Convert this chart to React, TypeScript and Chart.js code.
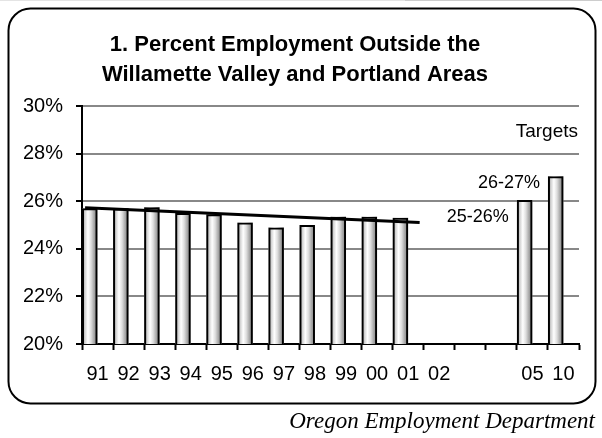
import React, { useEffect, useRef } from "react";
import { Chart, registerables } from "chart.js";

Chart.register(...registerables);

// ---- data ----
const categories = ["91", "92", "93", "94", "95", "96", "97", "98", "99", "00", "01", "02", "", "", "05", "10"];
const employmentShare = [25.7, 25.7, 25.75, 25.5, 25.45, 25.1, 24.9, 25.0, 25.35, 25.35, 25.3, null, null, null, 26.05, 27.05];
const trendX = [0.1, 10.87]; // in category-slot units
const trendY = [25.72, 25.1];
const yTicksMin = 20;
const yTicksMax = 30;
const yTickStep = 2;
const titleLines = ["1. Percent Employment Outside the", "Willamette Valley and Portland Areas"];
const annotationLabels = ["Targets", "26-27%", "25-26%"];
const annotationValues = [28.9, 26.75, 25.35];
const annotationAnchors = [-1, 15, 14]; // -1 = right edge of plot, otherwise category index of bar
const sourceText = "Oregon Employment Department";

const FONT = "'Liberation Sans', Arial, Helvetica, sans-serif";

// bars sit in the left half of each category slot
const barPoints = employmentShare
  .map((v, i) => (v == null ? null : { x: i + 0.25, y: v, idx: i }))
  .filter((p) => p !== null) as { x: number; y: number; idx: number }[];

const decorPlugin = {
  id: "decor",
  beforeDraw(chart: any) {
    const ctx = chart.ctx;
    ctx.save();
    ctx.fillStyle = "#ffffff";
    ctx.fillRect(0, 0, chart.width, chart.height);
    ctx.fillStyle = "#e4e4e4";
    ctx.fillRect(0, 0, 405, 1);
    ctx.fillStyle = "#cdcdcd";
    ctx.fillRect(405, 0, chart.width - 405, 1);
    ctx.beginPath();
    (ctx as any).roundRect(8.5, 8.5, 587, 395, 22);
    ctx.lineWidth = 2;
    ctx.strokeStyle = "#000";
    ctx.stroke();
    ctx.restore();
  },
  beforeDatasetsDraw(chart: any) {
    const ctx = chart.ctx;
    const area = chart.chartArea;
    const meta = chart.getDatasetMeta(0);
    ctx.save();
    ctx.beginPath();
    ctx.rect(area.left, area.top, area.right - area.left, area.bottom - area.top);
    ctx.clip();
    meta.data.forEach((el: any) => {
      const { x, y, base, width } = el.getProps(["x", "y", "base", "width"], true);
      const l = x - width / 2;
      const g = ctx.createLinearGradient(l, 0, l + width, 0);
      g.addColorStop(0, "#8c8c8c");
      g.addColorStop(0.18, "#cfcfcf");
      g.addColorStop(0.38, "#ffffff");
      g.addColorStop(0.58, "#dedede");
      g.addColorStop(0.78, "#a8a8a8");
      g.addColorStop(1, "#7a7a7a");
      ctx.fillStyle = g;
      ctx.fillRect(l, y, width, base - y);
    });
    ctx.restore();
  },
  afterDraw(chart: any) {
    const ctx = chart.ctx;
    const area = chart.chartArea;
    const yScale = chart.scales.y;
    const meta = chart.getDatasetMeta(0);
    ctx.save();
    ctx.fillStyle = "#000";
    // title
    ctx.font = `bold 22px ${FONT}`;
    ctx.textAlign = "center";
    ctx.textBaseline = "middle";
    titleLines.forEach((t, i) => ctx.fillText(t, 295, 45 + i * 30));
    // annotations
    ctx.textAlign = "right";
    annotationLabels.forEach((t, i) => {
      const a = annotationAnchors[i];
      let x: number;
      if (a < 0) {
        ctx.font = `19px ${FONT}`;
        x = area.right - 1;
      } else {
        ctx.font = `18px ${FONT}`;
        const k = barPoints.findIndex((p) => p.idx === a);
        const el = meta.data[k];
        x = el.x - el.width / 2 - 8;
      }
      ctx.fillText(t, x, yScale.getPixelForValue(annotationValues[i]));
    });
    // source
    ctx.font = `italic 23px 'Liberation Serif', 'Times New Roman', serif`;
    ctx.textAlign = "right";
    ctx.textBaseline = "alphabetic";
    ctx.fillText(sourceText, 595, 428);
    ctx.restore();
  },
};

export default function App() {
  const ref = useRef<HTMLCanvasElement>(null);
  useEffect(() => {
    const canvas = ref.current!;
    const chart = new Chart(canvas, {
      type: "bar",
      data: {
        labels: categories,
        datasets: [
          {
            type: "bar",
            data: barPoints,
            xAxisID: "xl",
            backgroundColor: "rgba(0,0,0,0)",
            borderColor: "#000",
            borderWidth: 2,
            categoryPercentage: 0.5,
            barPercentage: 1,
            grouped: false,
            order: 2,
          } as any,
          {
            type: "line",
            data: trendX.map((x, i) => ({ x, y: trendY[i] })),
            xAxisID: "xl",
            borderColor: "#000",
            borderWidth: 3,
            pointRadius: 0,
            fill: false,
            order: 0,
          } as any,
        ],
      },
      options: {
        responsive: false,
        animation: false,
        devicePixelRatio: 1,
        parsing: { xAxisKey: "x", yAxisKey: "y" },
        layout: { padding: { top: 106, right: 23, bottom: 0, left: 0 } },
        plugins: { legend: { display: false }, tooltip: { enabled: false }, title: { display: false } },
        scales: {
          x: {
            type: "category",
            labels: categories,
            grid: {
              offset: true,
              drawOnChartArea: false,
              drawTicks: true,
              tickLength: 6,
              tickColor: "#000",
              tickWidth: 2,
            },
            border: { color: "#000", width: 2 },
            ticks: { color: "#000", font: { family: FONT, size: 20 }, padding: 12, autoSkip: false, maxRotation: 0 },
            afterFit: (s: any) => {
              s.height = 94;
            },
          },
          xl: {
            type: "linear",
            display: false,
            min: 0,
            max: categories.length,
            offset: false,
          },
          y: {
            min: yTicksMin,
            max: yTicksMax,
            grid: {
              color: "#888",
              lineWidth: 2,
              tickLength: 6,
              tickColor: "#000",
              tickWidth: 2,
            },
            border: { color: "#000", width: 2 },
            ticks: {
              stepSize: yTickStep,
              color: "#000",
              font: { family: FONT, size: 20 },
              padding: 13,
              callback: (v: any) => `${v}%`,
            },
            afterFit: (s: any) => {
              s.width = 82;
            },
          },
        },
      } as any,
      plugins: [decorPlugin],
    });
    return () => chart.destroy();
  }, []);
  return (
    <div style={{ position: "absolute", left: 0, top: 0, width: 602, height: 438, background: "#fff" }}>
      <canvas ref={ref} width={602} height={438} style={{ display: "block", width: 602, height: 438 }} />
    </div>
  );
}
